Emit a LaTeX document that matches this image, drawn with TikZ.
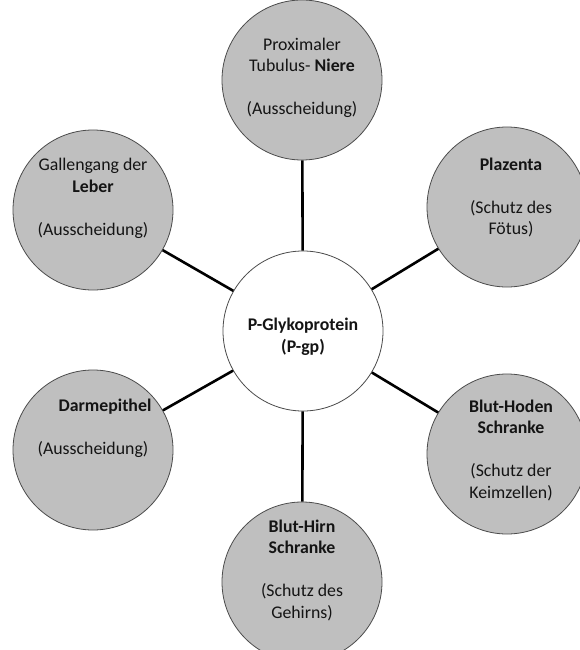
\documentclass[tikz,border=0pt]{standalone}
\usepackage{fontspec}
\setmainfont{Carlito}
\begin{document}
\begin{tikzpicture}[x=1pt,y=-1pt,
  organ/.style={circle,draw=black!70,line width=0.8pt,fill=organgray,minimum size=160pt,inner sep=0pt},
  hub/.style={circle,draw=black!70,line width=0.8pt,fill=white,minimum size=160pt,inner sep=0pt},
  lbl/.style={align=center,text=textdark,font=\fontsize{17.8}{21.5}\selectfont,inner sep=0pt},
  spoke/.style={line width=2.6pt,black}]
\definecolor{organgray}{HTML}{BFBFBF}
\definecolor{textdark}{HTML}{141414}
\useasboundingbox (0,0) rectangle (580,650);
\clip (0,0) rectangle (580,650);
\fill[white] (0,0) rectangle (580,650);
% circles
\node[hub]   (pgp)   at (303,331) {};
\node[organ] (niere) at (302,80)  {};
\node[organ] (leber) at (93,210)  {};
\node[organ] (plaz)  at (507,207) {};
\node[organ] (darm)  at (93,450)  {};
\node[organ] (hoden) at (507,454) {};
\node[organ] (hirn)  at (302,582) {};
% connectors
\draw[spoke] (pgp) -- (niere);
\draw[spoke] (pgp) -- (leber);
\draw[spoke] (pgp) -- (plaz);
\draw[spoke] (pgp) -- (darm);
\draw[spoke] (pgp) -- (hoden);
\draw[spoke] (pgp) -- (hirn);
% labels
\node[lbl,font=\fontsize{17.8}{21.5}\selectfont\bfseries] (tpgp) at (303,337) {P-Glykoprotein\\(P-gp)};
\node[lbl] (tniere) at (302,78) {Proximaler\\Tubulus- \textbf{Niere}\\[21.5pt](Ausscheidung)};
\node[lbl] (tleber) at (93,198.5) {Gallengang der\\\textbf{Leber}\\[21.5pt](Ausscheidung)};
\node[lbl] (tplaz) at (511,197.5) {\textbf{Plazenta}\\[21.5pt](Schutz des\\Fötus)};
\node[lbl] (tdarm) at (93,428) {\hspace*{24pt}\textbf{Darmepithel}\\[21.5pt](Ausscheidung)};
\node[lbl] (thoden) at (511,450) {\textbf{Blut-Hoden}\\\textbf{Schranke}\\[21.5pt](Schutz der\\Keimzellen)};
\node[lbl] (thirn) at (302,570) {\textbf{Blut-Hirn}\\\textbf{Schranke}\\[21.5pt](Schutz des\\Gehirns)};
\end{tikzpicture}
\end{document}
